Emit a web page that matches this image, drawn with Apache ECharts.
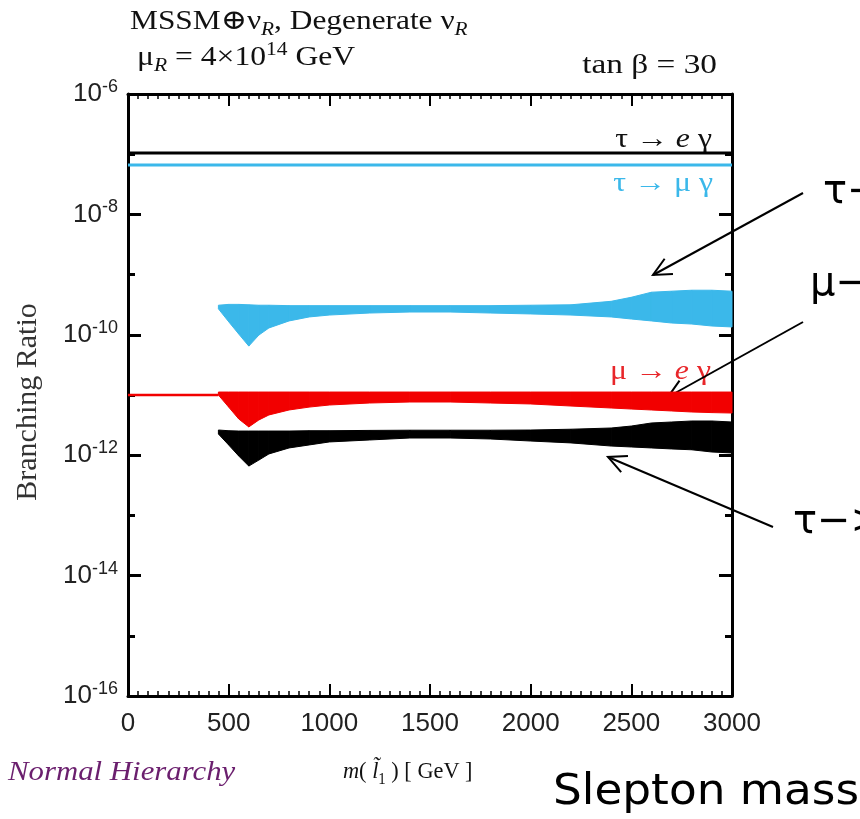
<!DOCTYPE html>
<html>
<head>
<meta charset="utf-8">
<title>LFV branching ratios vs slepton mass</title>
<script src="https://cdn.jsdelivr.net/npm/echarts@6/dist/echarts.min.js"></script>
<style>
  html, body { margin: 0; padding: 0; background: #fff; }
  #chart { width: 860px; height: 819px; }
</style>
</head>
<body>
<div id="chart"></div>
<script>
// x axis: lightest slepton mass [GeV]
const massTicks = [0, 500, 1000, 1500, 2000, 2500, 3000];
// labelled decades of the branching-ratio axis (every second decade)
const ratioExponents = [-16, -14, -12, -10, -8, -6];

// experimental bounds (flat lines across the whole range)
const lineMass = [0, 3000];
const tauEBound = [1.05e-7, 1.05e-7];
const tauMuBound = [6.6e-8, 6.6e-8];
// mu -> e gamma flat part below the scan start
const muEFlatMass = [0, 449];
const muEFlat = [1.0e-11, 1.0e-11];

// scan bands (upper / lower edge of the point clouds)
const bandMass = [449, 500, 550, 600, 650, 700, 800, 900, 1000, 1200, 1400, 1600, 1800, 2000, 2200, 2400, 2500, 2600, 2700, 2800, 2900, 3000];
const tauMuHigh = [3.1e-10, 3.2e-10, 3.2e-10, 3.15e-10, 3.1e-10, 3.1e-10, 3.05e-10, 3.05e-10, 3.05e-10, 3.05e-10, 3.05e-10, 3.05e-10, 3.05e-10, 3.1e-10, 3.15e-10, 3.6e-10, 4.2e-10, 5.1e-10, 5.3e-10, 5.5e-10, 5.5e-10, 5.3e-10];
const tauMuLow = [2.7e-10, 1.65e-10, 1.03e-10, 6.5e-11, 9.9e-11, 1.3e-10, 1.7e-10, 1.98e-10, 2.13e-10, 2.3e-10, 2.39e-10, 2.39e-10, 2.3e-10, 2.22e-10, 2.13e-10, 1.98e-10, 1.83e-10, 1.7e-10, 1.57e-10, 1.51e-10, 1.4e-10, 1.35e-10];
const muEHigh = [1.12e-11, 1.12e-11, 1.12e-11, 1.12e-11, 1.12e-11, 1.12e-11, 1.12e-11, 1.12e-11, 1.12e-11, 1.12e-11, 1.12e-11, 1.12e-11, 1.12e-11, 1.12e-11, 1.12e-11, 1.12e-11, 1.12e-11, 1.12e-11, 1.12e-11, 1.12e-11, 1.12e-11, 1.12e-11];
const muELow = [1.0e-11, 6.3e-12, 4.0e-12, 2.95e-12, 3.85e-12, 4.66e-12, 5.64e-12, 6.3e-12, 6.82e-12, 7.36e-12, 7.65e-12, 7.65e-12, 7.36e-12, 7.1e-12, 6.56e-12, 6.08e-12, 5.85e-12, 5.64e-12, 5.43e-12, 5.22e-12, 5.1e-12, 5.02e-12];
const tauEHigh = [2.62e-12, 2.55e-12, 2.52e-12, 2.52e-12, 2.52e-12, 2.52e-12, 2.52e-12, 2.55e-12, 2.55e-12, 2.58e-12, 2.6e-12, 2.6e-12, 2.6e-12, 2.62e-12, 2.7e-12, 2.83e-12, 3.05e-12, 3.43e-12, 3.56e-12, 3.7e-12, 3.7e-12, 3.56e-12];
const tauELow = [2.25e-12, 1.48e-12, 9.7e-13, 6.6e-13, 8.3e-13, 1.05e-12, 1.32e-12, 1.48e-12, 1.66e-12, 1.79e-12, 1.93e-12, 1.93e-12, 1.86e-12, 1.72e-12, 1.6e-12, 1.42e-12, 1.37e-12, 1.32e-12, 1.27e-12, 1.23e-12, 1.13e-12, 1.09e-12];

const CYAN = '#3bb8ea';
const RED = '#f20000';
const SERIF = '"Liberation Serif", "DejaVu Serif", serif';
const SANS = '"Liberation Sans", Arial, sans-serif';
const DEJAVU = '"DejaVu Sans", sans-serif';

const chart = echarts.init(document.getElementById('chart'), null, { renderer: 'canvas' });

function pairs(xs, ys) {
  return xs.map((x, i) => [x, ys[i]]);
}

function bandSeries(name, color, low, high) {
  const data = bandMass.slice(0, -1).map((m, i) => [m, low[i], high[i], bandMass[i + 1], low[i + 1], high[i + 1]]);
  return {
    name,
    type: 'custom',
    data,
    encode: { x: [0, 3], y: [1, 2, 4, 5] },
    silent: true,
    renderItem(params, api) {
      const p0 = api.coord([api.value(0), api.value(2)]);
      const p1 = api.coord([api.value(3), api.value(5)]);
      const p2 = api.coord([api.value(3), api.value(4)]);
      const p3 = api.coord([api.value(0), api.value(1)]);
      return {
        type: 'polygon',
        shape: { points: [p0, p1, p2, p3] },
        style: { fill: color, stroke: color, lineWidth: 1 }
      };
    }
  };
}

function lineSeries(name, color, xs, ys, width) {
  return {
    name,
    type: 'line',
    data: pairs(xs, ys),
    symbol: 'none',
    silent: true,
    lineStyle: { color, width }
  };
}

function arrow(from, to) {
  const ang = Math.atan2(to[1] - from[1], to[0] - from[0]);
  const len = 20;
  const spread = 0.45;
  const h1 = [to[0] - len * Math.cos(ang - spread), to[1] - len * Math.sin(ang - spread)];
  const h2 = [to[0] - len * Math.cos(ang + spread), to[1] - len * Math.sin(ang + spread)];
  return [
    { type: 'polyline', shape: { points: [from, to] }, style: { stroke: '#000', lineWidth: 2 } },
    { type: 'polyline', shape: { points: [h1, to, h2] }, style: { stroke: '#000', lineWidth: 2, fill: null } }
  ];
}

function text(x, y, str, opts) {
  return {
    type: 'text',
    x, y,
    rotation: opts.rotation || 0,
    scaleX: opts.scaleX || 1,
    style: Object.assign({
      text: str,
      fontFamily: SERIF,
      fontSize: 26,
      fill: '#111',
      align: 'left',
      verticalAlign: 'middle'
    }, opts.style)
  };
}

const subStyle = (size) => ({ fontFamily: SERIF, fontSize: size, fontStyle: 'italic', lineHeight: size, verticalAlign: 'bottom' });
const supStyle = (size) => ({ fontFamily: SERIF, fontSize: size, lineHeight: size, verticalAlign: 'top' });

const lowExp = ratioExponents[0];
const highExp = ratioExponents[ratioExponents.length - 1];

// labelled axis: one tick every two decades (long ticks)
function labelledY(position, withLabels) {
  return {
    type: 'log',
    logBase: 10,
    min: Math.pow(10, lowExp),
    max: Math.pow(10, highExp),
    interval: ratioExponents[1] - ratioExponents[0],
    position,
    splitLine: { show: false },
    axisLine: { show: true, lineStyle: { color: '#000', width: 3 } },
    axisTick: { show: true, inside: true, length: 13, lineStyle: { color: '#000', width: 3 } },
    axisLabel: withLabels ? {
      margin: 10,
      formatter: (v) => '{b|10}{s|' + Math.round(Math.log10(v)) + '}',
      rich: {
        b: { fontFamily: SANS, fontSize: 26, color: '#222', lineHeight: 32 },
        s: { fontFamily: SANS, fontSize: 18, color: '#222', lineHeight: 18, verticalAlign: 'top' }
      }
    } : { show: false }
  };
}

// decade axis: short ticks at every decade
function decadeY(position) {
  return {
    type: 'log',
    logBase: 10,
    min: Math.pow(10, lowExp),
    max: Math.pow(10, highExp),
    interval: 1,
    position,
    splitLine: { show: false },
    axisLine: { show: false },
    axisTick: { show: true, inside: true, length: 7, lineStyle: { color: '#000', width: 3 } },
    axisLabel: { show: false }
  };
}

const xAxisBase = {
  type: 'value',
  min: massTicks[0],
  max: massTicks[massTicks.length - 1],
  interval: massTicks[1] - massTicks[0],
  splitLine: { show: false },
  axisLine: { show: true, lineStyle: { color: '#000', width: 3 } },
  axisTick: { show: true, inside: true, length: 12, lineStyle: { color: '#000', width: 2 } },
  minorTick: { show: true, splitNumber: 10, length: 5, lineStyle: { color: '#000', width: 1.5 } }
};

const option = {
  animation: false,
  backgroundColor: '#fff',
  grid: { left: 128, right: 128, top: 94, bottom: 123, containLabel: false },
  xAxis: [
    Object.assign({}, xAxisBase, {
      position: 'bottom',
      axisLabel: {
        color: '#222',
        fontFamily: SANS,
        fontSize: 26,
        margin: 15,
        formatter: (v) => String(v)
      }
    }),
    Object.assign({}, xAxisBase, { position: 'top', axisLabel: { show: false } })
  ],
  yAxis: [
    labelledY('left', true),
    decadeY('left'),
    labelledY('right', false),
    decadeY('right')
  ],
  series: [
    bandSeries('tau -> e gamma (scan)', '#000', tauELow, tauEHigh),
    bandSeries('mu -> e gamma (scan)', RED, muELow, muEHigh),
    bandSeries('tau -> mu gamma (scan)', CYAN, tauMuLow, tauMuHigh),
    lineSeries('mu -> e gamma bound', RED, muEFlatMass, muEFlat, 2.5),
    lineSeries('tau -> e gamma bound', '#000', lineMass, tauEBound, 3),
    lineSeries('tau -> mu gamma bound', CYAN, lineMass, tauMuBound, 3)
  ],
  graphic: [
    text(130, 22, 'MSSM\u2295\u03bd{sub|R}, Degenerate \u03bd{sub|R}', {
      scaleX: 1.12,
      style: { fontSize: 28, lineHeight: 34, rich: { sub: subStyle(19) } }
    }),
    text(137, 58, '\u03bc{sub|R} = 4\u00d710{sup|14} GeV', {
      scaleX: 1.13,
      style: { fontSize: 28, lineHeight: 34, rich: { sub: subStyle(19), sup: supStyle(19) } }
    }),
    text(717, 66, 'tan \u03b2 = 30', { scaleX: 1.19, style: { fontSize: 28, align: 'right' } }),
    text(712, 140, '\u03c4 \u2192 {it|e} \u03b3', {
      scaleX: 1.18,
      style: { fontSize: 27, align: 'right', rich: { it: { fontFamily: SERIF, fontSize: 27, fontStyle: 'italic' } } }
    }),
    text(713, 184, '\u03c4 \u2192 \u03bc \u03b3', { scaleX: 1.18, style: { fontSize: 27, align: 'right', fill: CYAN } }),
    text(711, 372, '\u03bc \u2192 {it|e} \u03b3', {
      scaleX: 1.18,
      style: { fontSize: 27, align: 'right', fill: '#e8262a', rich: { it: { fontFamily: SERIF, fontSize: 27, fontStyle: 'italic', fill: '#e8262a' } } }
    }),
    text(28, 402, 'Branching Ratio', {
      rotation: Math.PI / 2,
      style: { fontSize: 30, align: 'center', fill: '#333' }
    }),
    text(8, 773, 'Normal Hierarchy', {
      scaleX: 1.1,
      style: { fontSize: 28, fontStyle: 'italic', fill: '#6b1f6e' }
    }),
    text(343, 772, '{it|m}( {it|l\u0303}{sub|1} ) [ GeV ]', {
      scaleX: 0.93,
      style: {
        fontSize: 24, lineHeight: 32,
        rich: { it: { fontFamily: SERIF, fontSize: 24, fontStyle: 'italic' }, sub: { fontFamily: SERIF, fontSize: 16, lineHeight: 16, verticalAlign: 'bottom' } }
      }
    }),
    text(553, 793, 'Slepton mass', { scaleX: 1.08, style: { fontFamily: DEJAVU, fontSize: 42, fill: '#000' } }),
    text(823, 193, '\u03c4\u2212', { style: { fontFamily: DEJAVU, fontSize: 40, fill: '#000' } }),
    text(810, 285, '\u03bc\u2212', { style: { fontFamily: DEJAVU, fontSize: 40, fill: '#000' } }),
    text(793, 523, '\u03c4\u2212>', { style: { fontFamily: DEJAVU, fontSize: 40, fill: '#000' } })
  ].concat(
    arrow([803, 193], [653, 275]),
    arrow([803, 322], [668, 397]),
    arrow([773, 527], [608, 457])
  )
};

chart.setOption(option);
</script>
</body>
</html>
